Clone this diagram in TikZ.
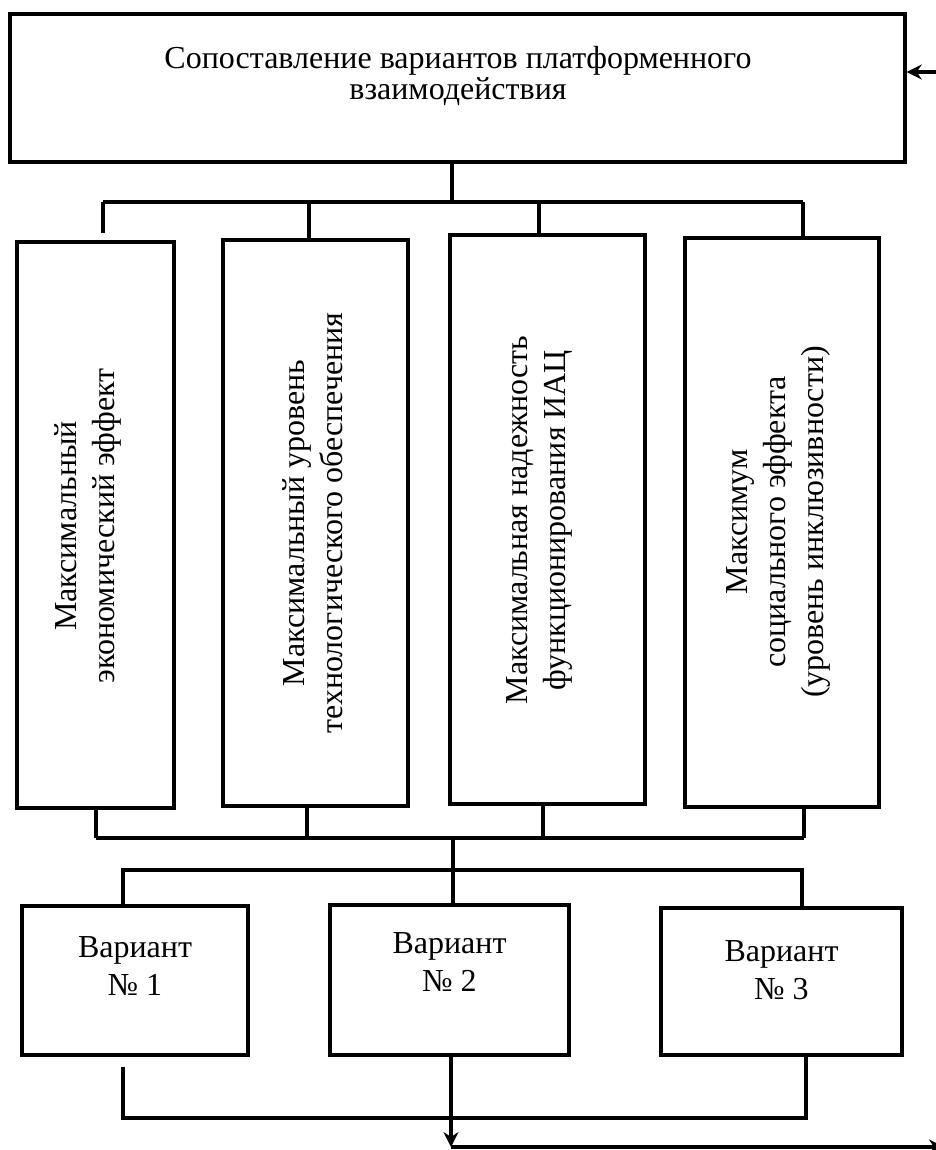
\documentclass[tikz,border=0pt]{standalone}
\usepackage{fontspec}
\setmainfont{Liberation Serif}
\usetikzlibrary{arrows.meta}
\begin{document}
\begin{tikzpicture}[x=1pt,y=-1pt,
  ln/.style={line width=3.4pt},
  boxs/.style={draw, line width=3.4pt, inner sep=0pt},
  txt/.style={font=\fontsize{32}{38}\selectfont, align=center, inner sep=0pt},
  arr/.style={line width=3.4pt, -{Stealth[length=15pt,width=15pt,inset=5pt]}}
]
\useasboundingbox (0,0) rectangle (936,1150);
\fill[white] (0,0) rectangle (936,1150);

% top box
\node[boxs, minimum width=895pt, minimum height=148pt] (top) at (457.5,88) {};
\node[txt, font=\fontsize{32}{31}\selectfont] (toptext) at (458,76) {Сопоставление вариантов платформенного\\взаимодействия};

% criteria boxes
\node[boxs, minimum width=157pt, minimum height=566pt] (b1) at (95.5,525) {};
\node[boxs, minimum width=185pt, minimum height=566pt] (b2) at (315.5,523) {};
\node[boxs, minimum width=195pt, minimum height=569pt] (b3) at (547.5,519.5) {};
\node[boxs, minimum width=194pt, minimum height=569pt] (b4) at (782,522.5) {};
\node[txt, rotate=90] (t1) at (88,526) {Максимальный\\экономический эффект};
\node[txt, rotate=90] (t2) at (313,523) {Максимальный уровень\\технологического обеспечения};
\node[txt, rotate=90] (t3) at (539,520) {Максимальная надежность\\функционирования ИАЦ};
\node[txt, rotate=90] (t4) at (778,522) {Максимум\\социального эффекта\\(уровень инклюзивности)};

% variant boxes
\node[boxs, minimum width=226pt, minimum height=149pt] (v1) at (135,980.5) {};
\node[boxs, minimum width=239pt, minimum height=150pt] (v2) at (449.5,980) {};
\node[boxs, minimum width=241pt, minimum height=147pt] (v3) at (781.5,981.5) {};
\node[txt] (vt1) at (135,966) {Вариант\\№ 1};
\node[txt] (vt2) at (449.5,962) {Вариант\\№ 2};
\node[txt] (vt3) at (781.5,970) {Вариант\\№ 3};

% top bus
\coordinate (stem) at (452,202);
\coordinate (j1) at (103,202);
\coordinate (j2) at (309,202);
\coordinate (j3) at (539,202);
\coordinate (j4) at (803,202);
\draw[ln] (top.south -| stem) -- (stem);
\draw[ln] (j1) -- (j4);
\draw[ln] (j1) -- ([yshift=7pt]b1.north -| j1);
\draw[ln] (j2) -- (b2.north -| j2);
\draw[ln] (j3) -- (b3.north -| j3);
\draw[ln] (j4) -- (b4.north -| j4);

% bottom bus of criteria
\coordinate (k1) at (96,838);
\coordinate (k2) at (307,838);
\coordinate (k3) at (543,838);
\coordinate (k4) at (804,838);
\draw[ln] (k1) -- (k4);
\draw[ln] (b1.south -| k1) -- (k1);
\draw[ln] (b2.south -| k2) -- (k2);
\draw[ln] (b3.south -| k3) -- (k3);
\draw[ln] (b4.south -| k4) -- (k4);

% to variants
\coordinate (kc) at (453,836);
\coordinate (m1) at (123,870);
\coordinate (m3) at (802,870);
\draw[ln] (kc) -- (kc |- v2.north);
\draw[ln] (m1 |- v1.north) -- (m1) -- (m3) -- (m3 |- v3.north);

% bottom connectors
\coordinate (n1) at (123,1118);
\coordinate (n3) at (806,1118);
\draw[ln] ([yshift=-10pt]v1.south -| n1) -- (n1) -- (n3) -- (n3 |- v3.south);
\coordinate (out) at (451,1147);
\coordinate (outR) at (944,1147);
\draw[arr] (v2.south -| out) -- (out);
\draw[arr] (out) -- (outR);

% input arrow into top box
\coordinate (in) at (950,72);
\draw[arr] (in) -- (in -| top.east);
\end{tikzpicture}
\end{document}
